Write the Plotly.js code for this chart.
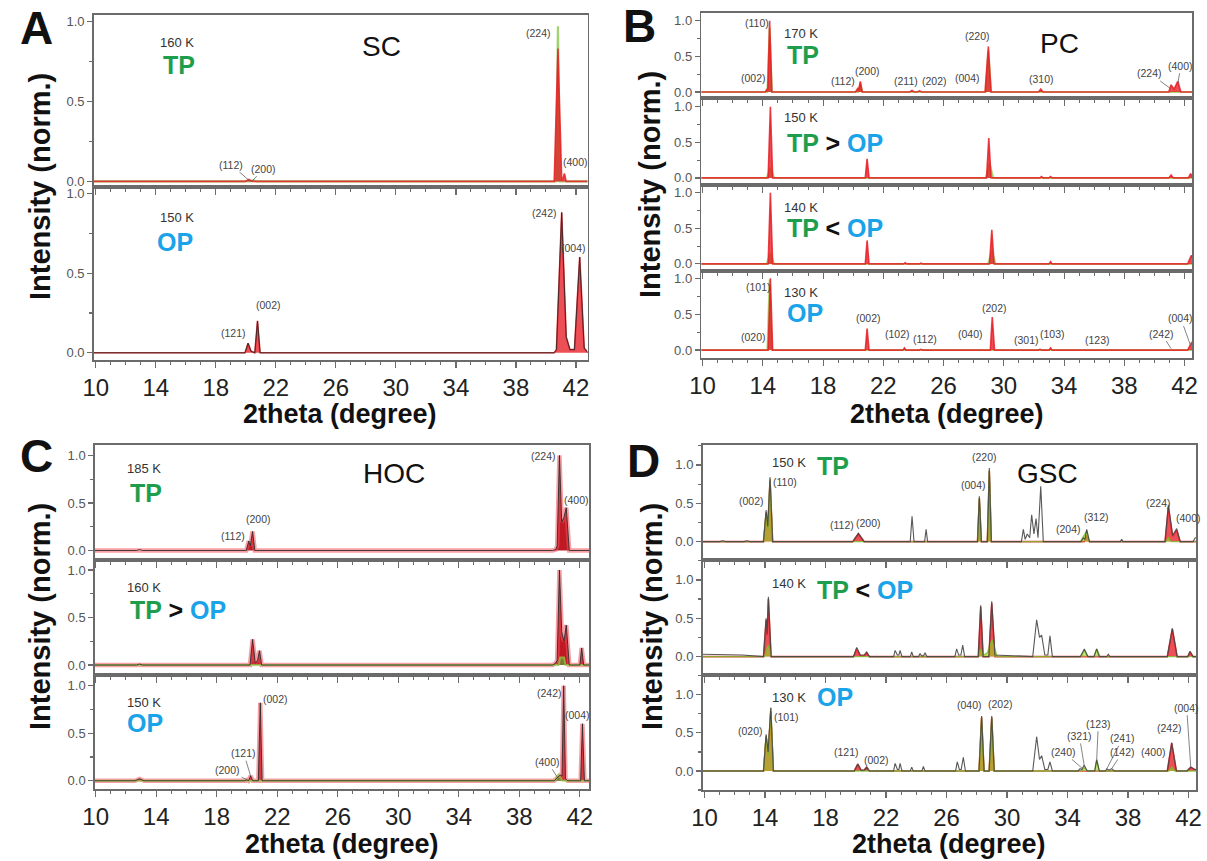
<!DOCTYPE html>
<html>
<head>
<meta charset="utf-8">
<script src="https://cdn.plot.ly/plotly-3.0.1.min.js"></script>
<style>
  html, body { margin: 0; padding: 0; background: #fff; }
  #chart { width: 1207px; height: 861px; }
</style>
</head>
<body>
<div id="chart"></div>
<script>
// ---------------- Diffraction patterns (2theta in degrees, normalised intensity) ----------------

// A: SC, 160 K (TP)
const A1_red_x = [9.8, 19.95, 20.2, 20.45, 40.55, 40.8, 41.05, 41.12, 41.23, 41.35, 42.8];
const A1_red_y = [0, 0, 0.012, 0, 0, 0.83, 0.01, 0.01, 0.05, 0, 0];
const A1_green_x = [9.8, 20.3, 20.5, 20.7, 40.68, 40.8, 40.92, 42.8];
const A1_green_y = [0, 0, 0.008, 0, 0, 0.97, 0, 0];
// A: SC, 150 K (OP)
const A2_red_x = [9.8, 19.95, 20.15, 20.35, 20.6, 20.78, 20.95, 40.55, 40.7, 41.05, 41.35, 41.6, 41.9, 42.25, 42.55, 42.8];
const A2_red_y = [0, 0, 0.06, 0.01, 0, 0.2, 0, 0, 0.02, 0.88, 0.1, 0.02, 0.02, 0.6, 0.03, 0];

// B: PC, 170 K (TP)
const B1_red_x = [9.8, 14.15, 14.25, 14.33, 14.45, 14.6, 20.15, 20.3, 20.37, 20.47, 20.6, 23.75, 23.9, 24.05, 24.25, 24.4, 24.55, 28.75, 28.97, 29.15, 32.3, 32.45, 32.6, 40.95, 41.1, 41.3, 41.55, 41.75, 42.8];
const B1_red_y = [0, 0, 0.03, 0.05, 1.0, 0, 0, 0.05, 0.04, 0.15, 0, 0, 0.02, 0, 0, 0.015, 0, 0, 0.64, 0, 0, 0.04, 0, 0, 0.1, 0.04, 0.15, 0, 0];
const B1_green_x = [9.8, 14.3, 14.45, 14.6, 20.35, 20.47, 20.6, 28.8, 28.97, 29.15, 42.8];
const B1_green_y = [0, 0, 0.9, 0, 0, 0.12, 0, 0, 0.58, 0, 0];
// B: PC, 150 K
const B2_red_x = [9.8, 14.35, 14.5, 14.65, 20.8, 20.92, 21.05, 28.85, 29.0, 29.15, 32.4, 32.5, 32.6, 33.0, 33.1, 33.2, 40.95, 41.1, 41.25, 42.25, 42.4, 42.55, 42.8];
const B2_red_y = [0, 0, 1.0, 0, 0, 0.27, 0, 0, 0.56, 0, 0, 0.02, 0, 0, 0.02, 0, 0, 0.04, 0, 0, 0.06, 0, 0];
const B2_green_x = [9.8, 14.25, 14.5, 14.75, 28.8, 29.05, 29.3, 42.8];
const B2_green_y = [0, 0, 0.15, 0, 0, 0.2, 0, 0];
// B: PC, 140 K
const B3_red_x = [9.8, 14.35, 14.5, 14.65, 20.8, 20.92, 21.05, 23.35, 23.45, 23.55, 24.4, 24.5, 24.6, 29.05, 29.2, 29.35, 33.0, 33.1, 33.2, 42.2, 42.45, 42.7, 42.8];
const B3_red_y = [0, 0, 1.0, 0, 0, 0.33, 0, 0, 0.015, 0, 0, 0.01, 0, 0, 0.48, 0, 0, 0.03, 0, 0, 0.12, 0.02, 0];
const B3_green_x = [9.8, 14.25, 14.5, 14.75, 28.95, 29.2, 29.45, 42.8];
const B3_green_y = [0, 0, 0.15, 0, 0, 0.18, 0, 0];
// B: PC, 130 K (OP)
const B4_red_x = [9.8, 14.35, 14.5, 14.65, 20.8, 20.92, 21.05, 23.3, 23.4, 23.5, 24.4, 24.5, 24.6, 29.1, 29.23, 29.38, 32.3, 32.4, 32.5, 33.0, 33.1, 33.2, 42.2, 42.45, 42.7, 42.8];
const B4_red_y = [0, 0, 1.0, 0, 0, 0.3, 0, 0, 0.03, 0, 0, 0.01, 0, 0, 0.46, 0, 0, 0.01, 0, 0, 0.03, 0, 0, 0.1, 0.02, 0];
const B4_green_x = [9.8, 14.3, 14.45, 14.6, 42.8];
const B4_green_y = [0, 0, 0.98, 0, 0];

// C: HOC, 185 K (TP)
const C1_red_x = [9.8, 12.7, 12.9, 13.1, 19.95, 20.12, 20.22, 20.37, 20.52, 40.2, 40.4, 40.5, 40.65, 40.8, 40.95, 41.1, 41.3, 42.8];
const C1_red_y = [0, 0, 0.01, 0, 0, 0.1, 0.05, 0.2, 0, 0, 0.01, 0.05, 1.0, 0.3, 0.35, 0.45, 0, 0];
// C: HOC, 160 K
const C2_red_x = [9.8, 12.7, 12.9, 13.1, 20.2, 20.37, 20.55, 20.7, 20.83, 20.97, 40.2, 40.4, 40.5, 40.65, 40.8, 40.95, 41.1, 41.3, 42.0, 42.12, 42.25, 42.8];
const C2_red_y = [0, 0, 0.01, 0, 0, 0.27, 0.02, 0.05, 0.15, 0, 0, 0.02, 0.05, 1.0, 0.35, 0.25, 0.42, 0, 0, 0.18, 0, 0];
const C2_green_x = [9.8, 40.6, 40.7, 40.95, 41.05, 42.8];
const C2_green_y = [0, 0, 0.08, 0.08, 0, 0];
// C: HOC, 150 K (OP)
const C3_red_x = [9.8, 12.6, 12.9, 13.2, 19.85, 20.0, 20.1, 20.24, 20.38, 20.75, 20.88, 21.0, 40.3, 40.5, 40.7, 40.82, 40.93, 41.05, 41.2, 42.05, 42.17, 42.3, 42.8];
const C3_red_y = [0, 0, 0.02, 0, 0, 0.01, 0, 0.05, 0, 0, 0.82, 0, 0, 0.03, 0.06, 0.05, 1.0, 0.02, 0, 0, 0.6, 0, 0];
const C3_green_x = [9.8, 40.35, 40.6, 40.85, 42.8];
const C3_green_y = [0, 0, 0.06, 0, 0];

// D: GSC, 150 K (TP)
const D1_dark_x = [9.8, 11.0, 11.2, 11.4, 12.6, 12.8, 13.0, 13.9, 14.07, 14.18, 14.33, 14.5, 19.8, 20.17, 20.55, 23.6, 23.72, 23.85, 24.55, 24.65, 24.75, 28.05, 28.17, 28.3, 28.7, 28.83, 28.96, 30.95, 31.08, 31.2, 31.34, 31.5, 31.63, 31.78, 31.92, 32.05, 32.23, 32.4, 34.9, 35.05, 35.15, 35.27, 35.45, 37.5, 37.58, 37.66, 40.45, 40.67, 40.95, 41.22, 41.45, 42.3, 42.45, 42.5];
const D1_dark_y = [0, 0, 0.01, 0, 0, 0.01, 0, 0, 0.41, 0.2, 0.84, 0, 0, 0.11, 0, 0, 0.33, 0, 0, 0.16, 0, 0, 0.59, 0, 0, 0.96, 0, 0, 0.16, 0.03, 0.1, 0.05, 0.35, 0.1, 0.3, 0.05, 0.72, 0, 0, 0.05, 0.03, 0.16, 0, 0, 0.03, 0, 0, 0.48, 0.08, 0.17, 0, 0, 0.05, 0.05];
const D1_red_x = [9.8, 13.9, 14.07, 14.18, 14.33, 14.5, 19.8, 20.17, 20.55, 28.05, 28.17, 28.3, 28.7, 28.83, 28.96, 35.1, 35.27, 35.45, 40.45, 40.67, 40.95, 41.22, 41.45, 42.5];
const D1_red_y = [0, 0, 0.38, 0.18, 0.8, 0, 0, 0.1, 0, 0, 0.56, 0, 0, 0.92, 0, 0, 0.08, 0, 0, 0.45, 0.07, 0.15, 0, 0];
const D1_green_x = [9.8, 13.9, 14.07, 14.18, 14.33, 14.5, 28.05, 28.17, 28.3, 28.7, 28.83, 28.96, 34.85, 35.05, 35.27, 35.45, 40.5, 40.67, 40.85, 42.5];
const D1_green_y = [0, 0, 0.36, 0.15, 0.82, 0, 0, 0.57, 0, 0, 0.93, 0, 0, 0.06, 0.14, 0, 0, 0.05, 0, 0];
// D: GSC, 140 K
const D2_dark_x = [9.8, 12.5, 13.9, 14.07, 14.14, 14.22, 14.4, 19.85, 20.06, 20.3, 20.55, 20.72, 20.9, 22.5, 22.6, 22.75, 22.85, 22.93, 23.05, 23.6, 23.7, 23.8, 24.15, 24.25, 24.35, 24.48, 24.58, 24.7, 26.55, 26.67, 26.8, 26.95, 27.07, 27.2, 28.1, 28.26, 28.42, 28.8, 28.99, 29.2, 31.7, 31.96, 32.15, 32.29, 32.5, 32.7, 32.84, 33.0, 34.85, 35.11, 35.35, 35.75, 35.93, 36.1, 36.6, 36.7, 36.8, 40.6, 40.93, 41.25, 41.95, 42.1, 42.3, 42.5];
const D2_dark_y = [0.03, 0.02, 0, 0.5, 0.3, 0.78, 0, 0, 0.12, 0.02, 0.02, 0.06, 0, 0, 0.08, 0.02, 0.02, 0.08, 0, 0, 0.06, 0, 0, 0.04, 0.01, 0.01, 0.05, 0, 0, 0.1, 0.02, 0.02, 0.15, 0, 0, 0.67, 0, 0, 0.72, 0.02, 0, 0.48, 0.25, 0.28, 0.02, 0.02, 0.27, 0, 0, 0.1, 0, 0, 0.1, 0, 0, 0.03, 0, 0, 0.37, 0, 0, 0.07, 0, 0];
const D2_red_x = [9.8, 13.9, 14.07, 14.14, 14.22, 14.4, 19.85, 20.06, 20.3, 20.55, 20.72, 20.9, 28.1, 28.26, 28.42, 28.8, 28.99, 29.2, 40.6, 40.93, 41.25, 41.95, 42.1, 42.3, 42.5];
const D2_red_y = [0, 0, 0.48, 0.28, 0.75, 0, 0, 0.1, 0.01, 0.01, 0.05, 0, 0, 0.65, 0, 0, 0.7, 0, 0, 0.36, 0, 0, 0.06, 0, 0];
const D2_green_x = [9.8, 13.95, 14.2, 14.45, 28.1, 28.26, 28.45, 28.7, 29.0, 29.35, 34.9, 35.11, 35.35, 35.75, 35.93, 36.15, 42.5];
const D2_green_y = [0, 0, 0.15, 0, 0, 0.1, 0.02, 0.05, 0.22, 0, 0, 0.08, 0, 0, 0.1, 0, 0];
// D: GSC, 130 K (OP)
const D3_dark_x = [9.8, 13.9, 14.07, 14.2, 14.38, 14.55, 19.9, 20.13, 20.35, 20.55, 20.72, 20.9, 22.5, 22.6, 22.75, 22.85, 22.93, 23.05, 23.6, 23.7, 23.8, 24.37, 24.47, 24.57, 26.6, 26.71, 26.85, 26.97, 27.11, 27.25, 28.15, 28.32, 28.48, 28.82, 28.99, 29.15, 31.7, 31.96, 32.15, 32.29, 32.5, 32.7, 32.84, 33.0, 34.7, 34.83, 34.95, 35.1, 35.3, 35.8, 35.93, 36.1, 36.5, 36.6, 36.75, 36.92, 37.1, 40.6, 40.89, 41.2, 41.9, 42.15, 42.4, 42.5];
const D3_dark_y = [0, 0, 0.48, 0.25, 0.83, 0, 0, 0.09, 0.01, 0.01, 0.05, 0, 0, 0.1, 0.02, 0.02, 0.1, 0, 0, 0.05, 0, 0, 0.06, 0, 0, 0.12, 0.02, 0.02, 0.18, 0, 0, 0.72, 0, 0, 0.72, 0, 0, 0.45, 0.15, 0.2, 0.02, 0.02, 0.12, 0, 0, 0.03, 0.02, 0.08, 0, 0, 0.15, 0, 0, 0.03, 0.01, 0.03, 0, 0, 0.37, 0, 0, 0.05, 0.02, 0.02];
const D3_red_x = [9.8, 13.9, 14.07, 14.2, 14.38, 14.55, 19.9, 20.13, 20.35, 20.55, 20.72, 20.9, 28.15, 28.32, 28.48, 28.82, 28.99, 29.15, 40.6, 40.89, 41.2, 41.9, 42.15, 42.4, 42.5];
const D3_red_y = [0, 0, 0.45, 0.22, 0.78, 0, 0, 0.09, 0.01, 0.01, 0.05, 0, 0, 0.7, 0, 0, 0.7, 0, 0, 0.37, 0, 0, 0.05, 0.02, 0.02];
const D3_green_x = [9.8, 13.9, 14.07, 14.2, 14.38, 14.55, 28.15, 28.32, 28.48, 28.82, 28.99, 29.15, 34.9, 35.1, 35.3, 35.8, 35.93, 36.1, 40.7, 40.89, 41.1, 42.5];
const D3_green_y = [0, 0, 0.46, 0.2, 0.83, 0, 0, 0.7, 0, 0, 0.7, 0, 0, 0.05, 0, 0, 0.15, 0, 0, 0.05, 0, 0];

// Axis tick labels
const xTickVals = [10, 14, 18, 22, 26, 30, 34, 38, 42];
const yTickVals = [0, 0.5, 1.0];

// ---------------- Layout ----------------
const W = 1207, H = 861;
const FONT = 'Liberation Sans, Arial, Helvetica, sans-serif';
const GREEN = '#1e9e4c', BLUE = '#1aa3e8';
const px = v => v / W;
const py = v => 1 - v / H;

// Each panel: pixel frame, x range and one [top, bottom, ymin, ymax] per stacked row
const panels = [
  { left: 93.8, right: 587.5, xr: [9.87, 42.77],
    rows: [[15, 187, -0.035, 1.04], [187, 360, -0.045, 1.04]] },
  { left: 701.4, right: 1192.3, xr: [9.92, 42.51],
    rows: [[13, 98, -0.085, 1.11], [98, 185, -0.1, 1.125], [185, 271, -0.1, 1.11], [271, 358, -0.11, 1.1]] },
  { left: 94.9, right: 589.4, xr: [9.95, 42.63],
    rows: [[445, 560, -0.1, 1.11], [560, 675, -0.105, 1.105], [675, 789, -0.087, 1.113]] },
  { left: 702.6, right: 1196.2, xr: [9.87, 42.51],
    rows: [[445, 560, -0.24, 1.26], [560, 675, -0.24, 1.26], [675, 790, -0.25, 1.26]] }
];

// Series drawn in each row, in drawing order
const rowSeries = [
  [['greenA', A1_green_x, A1_green_y], ['red', A1_red_x, A1_red_y]],
  [['red', A2_red_x, A2_red_y], ['dark', A2_red_x, A2_red_y]],
  [['green', B1_green_x, B1_green_y], ['red', B1_red_x, B1_red_y]],
  [['green', B2_green_x, B2_green_y], ['red', B2_red_x, B2_red_y]],
  [['green', B3_green_x, B3_green_y], ['red', B3_red_x, B3_red_y]],
  [['green', B4_green_x, B4_green_y], ['red', B4_red_x, B4_red_y]],
  [['redC', C1_red_x, C1_red_y], ['dark', C1_red_x, C1_red_y]],
  [['redC', C2_red_x, C2_red_y], ['green', C2_green_x, C2_green_y], ['dark', C2_red_x, C2_red_y]],
  [['redC', C3_red_x, C3_red_y], ['green', C3_green_x, C3_green_y], ['dark', C3_red_x, C3_red_y]],
  [['red', D1_red_x, D1_red_y], ['greenD', D1_green_x, D1_green_y], ['darkD', D1_dark_x, D1_dark_y]],
  [['red', D2_red_x, D2_red_y], ['greenD', D2_green_x, D2_green_y], ['darkD', D2_dark_x, D2_dark_y]],
  [['red', D3_red_x, D3_red_y], ['greenD', D3_green_x, D3_green_y], ['darkD', D3_dark_x, D3_dark_y]]
];

const styles = {
  red:    { fill: 'rgba(232,30,38,0.78)', line: 'rgba(232,30,38,0.85)', w: 1.6 },
  redC:   { fill: 'rgba(185,0,12,0.9)',   line: 'rgba(240,80,90,0.55)', w: 4.5 },
  green:  { fill: 'rgba(70,200,70,0.55)', line: 'rgba(150,200,70,0.75)', w: 2 },
  greenA: { fill: 'rgba(70,200,70,0.7)',  line: 'rgba(140,200,80,0.8)', w: 2.2 },
  greenD: { fill: 'rgba(150,215,30,0.6)', line: 'rgba(120,190,40,0.8)', w: 1.4 },
  dark:   { line: 'rgba(40,40,40,0.85)', w: 1 },
  darkD:  { line: 'rgba(70,70,70,0.9)',  w: 1.1 }
};

const layout = {
  width: W, height: H,
  margin: { l: 0, r: 0, t: 0, b: 0 },
  paper_bgcolor: '#fff', plot_bgcolor: 'rgba(0,0,0,0)',
  showlegend: false,
  font: { family: FONT, color: '#222' },
  annotations: []
};
const traces = [];
const rowAxis = [];   // axis ids per row, in order

let n = 0;
panels.forEach(p => {
  p.rows.forEach((r, i) => {
    n += 1;
    const sfx = n === 1 ? '' : String(n);
    const xa = 'x' + sfx, ya = 'y' + sfx;
    rowAxis.push([xa, ya]);
    const last = i === p.rows.length - 1;
    layout['xaxis' + sfx] = {
      domain: [px(p.left), px(p.right)], anchor: ya, range: p.xr,
      showline: true, mirror: true, linecolor: '#6b6b6b', linewidth: 1.6,
      ticks: 'outside', ticklen: 6, tickwidth: 1.2, tickcolor: '#6b6b6b',
      tickmode: 'array', tickvals: xTickVals,
      minor: { dtick: 1, tick0: 10, ticks: 'outside', ticklen: 3.5, tickwidth: 1, tickcolor: '#6b6b6b' },
      showticklabels: last, tickfont: { size: 24, family: FONT, color: '#222' },
      showgrid: false, zeroline: false, fixedrange: true
    };
    layout['yaxis' + sfx] = {
      domain: [py(r[1]), py(r[0])], anchor: xa, range: [r[2], r[3]],
      showline: true, mirror: true, linecolor: '#6b6b6b', linewidth: 1.6,
      ticks: 'outside', ticklen: 5, tickwidth: 1.2, tickcolor: '#6b6b6b',
      tickmode: 'array', tickvals: yTickVals, tickformat: '.1f',
      minor: { dtick: 0.25, tick0: 0, ticks: 'outside', ticklen: 3, tickcolor: '#6b6b6b' },
      tickfont: { size: 13, family: FONT, color: '#555' },
      showgrid: false, zeroline: false, fixedrange: true
    };
    rowSeries[n - 1].forEach(([kind, xs, ys]) => {
      const s = styles[kind];
      const t = {
        type: 'scatter', mode: 'lines', x: xs, y: ys, xaxis: xa, yaxis: ya,
        line: { color: s.line, width: s.w }, hoverinfo: 'skip', showlegend: false
      };
      if (s.fill) { t.fill = 'tozeroy'; t.fillcolor = s.fill; }
      traces.push(t);
    });
  });
});

// ---------------- Text ----------------
const A = layout.annotations;
function paperText(text, x, y, size, opts) {
  A.push(Object.assign({
    text, x: px(x), y: py(y), xref: 'paper', yref: 'paper', showarrow: false,
    xanchor: 'center', yanchor: 'middle', font: { family: FONT, size, color: '#111' }
  }, opts || {}));
}

// panel letters and sample names
[['A', 36, 28], ['B', 639, 26], ['C', 36, 456], ['D', 643, 461]]
  .forEach(([t, x, y]) => paperText('<b>' + t + '</b>', x, y, 46));
[['SC', 381, 47], ['PC', 1059, 43], ['HOC', 394, 473], ['GSC', 1047, 473]]
  .forEach(([t, x, y]) => paperText(t, x, y, 28));

// axis titles
const yTitleAt = [[40, 187], [650, 185], [40, 617], [652, 617]];
yTitleAt.forEach(([x, y]) => paperText('<b>Intensity (norm.)</b>', x, y, 29, { textangle: -90 }));
[[340, 414], [947, 414], [342, 844], [949, 844]]
  .forEach(([x, y]) => paperText('<b>2theta (degree)</b>', x, y, 27));

// temperatures
[['160 K', 158, 42], ['150 K', 158, 218], ['170 K', 782, 33], ['150 K', 782, 118],
 ['140 K', 782, 207], ['130 K', 782, 292], ['185 K', 125, 468], ['160 K', 125, 587],
 ['150 K', 125, 702], ['150 K', 770, 462], ['140 K', 770, 583], ['130 K', 770, 697]]
  .forEach(([t, x, y]) => paperText(t, x, y, 13, { xanchor: 'left', font: { family: FONT, size: 13, color: '#333' } }));

// phase labels
const TP = '<span style="color:' + GREEN + '">TP</span>';
const OP = '<span style="color:' + BLUE + '">OP</span>';
const phase = {
  tp: '<b>' + TP + '</b>',
  op: '<b>' + OP + '</b>',
  gt: '<b>' + TP + ' &gt; ' + OP + '</b>',
  lt: '<b>' + TP + ' &lt; ' + OP + '</b>'
};
[['tp', 161, 65], ['op', 155, 242], ['tp', 785, 55], ['gt', 785, 143], ['lt', 785, 228],
 ['op', 785, 313], ['tp', 128, 493], ['gt', 128, 610], ['op', 125, 723],
 ['tp', 815, 466], ['lt', 815, 590], ['op', 815, 697]]
  .forEach(([k, x, y]) => paperText(phase[k], x, y, 25, { xanchor: 'left' }));

// Miller indices: [row, text, x, y] in data units; optional leader line to [tipX, tipY]
const hklNotes = [
  [1, '(224)', 39.5, 0.93], [1, '(400)', 42.0, 0.12],
  [1, '(112)', 19.0, 0.105, 20.3, 0.0], [1, '(200)', 21.2, 0.08, 20.4, 0.0],
  [2, '(242)', 39.93, 0.88], [2, '(004)', 41.87, 0.66], [2, '(121)', 19.15, 0.125], [2, '(002)', 21.48, 0.3],
  [3, '(110)', 13.6, 0.97], [3, '(002)', 13.35, 0.19], [3, '(112)', 19.32, 0.15], [3, '(200)', 20.92, 0.3],
  [3, '(211)', 23.49, 0.15], [3, '(202)', 25.42, 0.15], [3, '(004)', 27.56, 0.2], [3, '(220)', 28.25, 0.78],
  [3, '(310)', 32.5, 0.18], [3, '(224)', 39.7, 0.26, 41.05, 0.05], [3, '(400)', 41.75, 0.37, 41.55, 0.12],
  [6, '(101)', 13.72, 0.88], [6, '(020)', 13.35, 0.18], [6, '(002)', 21.0, 0.44], [6, '(102)', 22.93, 0.22],
  [6, '(112)', 24.78, 0.16], [6, '(040)', 27.8, 0.22], [6, '(202)', 29.4, 0.58], [6, '(301)', 31.47, 0.14],
  [6, '(103)', 33.21, 0.23], [6, '(123)', 36.22, 0.14], [6, '(242)', 40.46, 0.23, 41.1, 0.02],
  [6, '(004)', 41.75, 0.44, 42.4, 0.06],
  [7, '(224)', 39.59, 0.99], [7, '(400)', 41.75, 0.53], [7, '(200)', 20.75, 0.33], [7, '(112)', 19.05, 0.15],
  [9, '(002)', 21.88, 0.86], [9, '(121)', 19.79, 0.29, 20.24, 0.05], [9, '(200)', 18.72, 0.11, 20.0, 0.01],
  [9, '(242)', 39.97, 0.92], [9, '(004)', 41.87, 0.69], [9, '(400)', 39.85, 0.2, 40.5, 0.04],
  [10, '(002)', 13.12, 0.53], [10, '(110)', 15.32, 0.78], [10, '(112)', 19.07, 0.22], [10, '(200)', 20.83, 0.24],
  [10, '(004)', 27.77, 0.74], [10, '(220)', 28.48, 1.11], [10, '(204)', 34.05, 0.17], [10, '(312)', 35.93, 0.32],
  [10, '(224)', 40.0, 0.51], [10, '(400)', 41.99, 0.31],
  [12, '(020)', 13.01, 0.53], [12, '(101)', 15.43, 0.71], [12, '(121)', 19.36, 0.25], [12, '(002)', 21.39, 0.15],
  [12, '(040)', 27.55, 0.86], [12, '(202)', 29.54, 0.88], [12, '(240)', 33.72, 0.25, 35.0, 0.03],
  [12, '(321)', 34.78, 0.46, 35.1, 0.08], [12, '(123)', 36.04, 0.62, 35.93, 0.15],
  [12, '(241)', 37.65, 0.43, 36.6, 0.03], [12, '(142)', 37.65, 0.25, 36.92, 0.03],
  [12, '(400)', 39.67, 0.25], [12, '(242)', 40.73, 0.56], [12, '(004)', 41.88, 0.83, 42.15, 0.05]
];
// pixel scale of each row, for leader-line offsets
function rowScale(row) {
  let k = 0;
  for (const p of panels) {
    for (const r of p.rows) {
      k += 1;
      if (k === row) {
        return { sx: (p.right - p.left) / (p.xr[1] - p.xr[0]), sy: (r[1] - r[0]) / (r[3] - r[2]) };
      }
    }
  }
}
hklNotes.forEach(([row, text, x, y, tx, ty]) => {
  const [xa, ya] = rowAxis[row - 1];
  const font = { family: FONT, size: 10.5, color: '#444' };
  if (tx === undefined) {
    A.push({ text, x, y, xref: xa, yref: ya, showarrow: false, font, xanchor: 'center', yanchor: 'middle' });
  } else {
    const s = rowScale(row);
    A.push({
      text, x: tx, y: ty, xref: xa, yref: ya, showarrow: true, arrowhead: 0,
      arrowwidth: 0.8, arrowcolor: '#666', standoff: 0,
      ax: (x - tx) * s.sx, ay: -(y - ty) * s.sy, font
    });
  }
});

Plotly.newPlot('chart', traces, layout, { staticPlot: true, displayModeBar: false });
</script>
</body>
</html>
